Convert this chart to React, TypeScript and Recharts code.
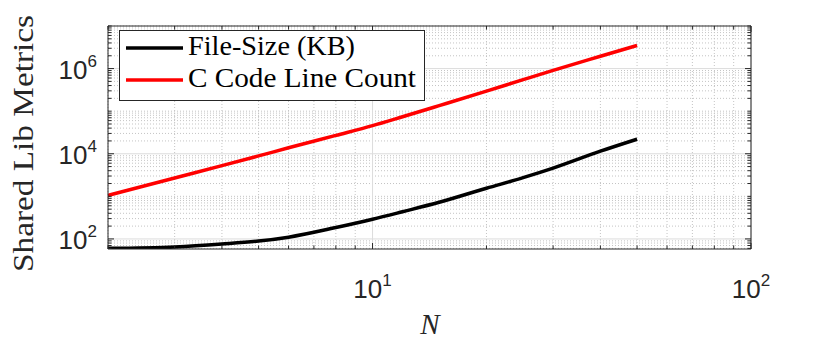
import React from 'react';
import { LineChart, Line, XAxis, YAxis, ReferenceLine } from 'recharts';

const nValues = [2, 3, 4, 5, 6, 8, 10, 12, 15, 20, 25, 30, 40, 50];
const fileSizeKB = [60, 65, 76, 89, 110, 185, 290, 435, 725, 1550, 2750, 4600, 11500, 22000];
const cLineCount = [1050, 2700, 5250, 8900, 13800, 27000, 45700, 74000, 135000, 295000, 550000, 910000, 1950000, 3500000];

const seriesNames = ['File-Size (KB)', 'C Code Line Count'];
const seriesColors = ['#000000', '#ff0000'];

const xDomain = [2, 100];
const yDomain = [58, 1e7];
const xMajor = [10, 100];
const yMajor = [1e2, 1e4, 1e6];
const mult = [1, 2, 3, 4, 5, 6, 7, 8, 9];
const xTicks = [1, 10].flatMap((d) => mult.map((m) => m * d)).concat([100]).filter((v) => v >= 2);
const yTicks = [10, 1e2, 1e3, 1e4, 1e5, 1e6].flatMap((d) => mult.map((m) => m * d)).concat([1e7]).filter((v) => v >= 60);

const data = nValues.map((n, i) => ({ n, fileSize: fileSizeKB[i], lines: cLineCount[i] }));

const AX = '#262626';
const TICK_FONT = '"Liberation Sans", Arial, Helvetica, sans-serif';
const SERIF = '"Liberation Serif", "Times New Roman", serif';

const exp = (v: number) => Math.round(Math.log10(v));

const BottomTick = ({ x, y, payload }: any) => {
  const major = xMajor.includes(payload.value);
  return (
    <g>
      <line x1={x} x2={x} y1={y} y2={y - (major ? 6 : 3.5)} stroke={AX} />
      {major && (
        <text x={x} y={y + 49} textAnchor="middle" fontFamily={TICK_FONT} fontSize={26} fill={AX}>
          10<tspan dy={-12} fontSize={17}>{exp(payload.value)}</tspan>
        </text>
      )}
    </g>
  );
};

const TopTick = ({ x, y, payload }: any) => {
  const major = xMajor.includes(payload.value);
  return <line x1={x} x2={x} y1={y} y2={y + (major ? 6 : 3.5)} stroke={AX} />;
};

const LeftTick = ({ x, y, payload }: any) => {
  const major = yMajor.includes(payload.value);
  return (
    <g>
      <line x1={x} x2={x + (major ? 6 : 3.5)} y1={y} y2={y} stroke={AX} />
      {major && (
        <text x={x - 11} y={y + 10} textAnchor="end" fontFamily={TICK_FONT} fontSize={26} fill={AX}>
          10<tspan dy={-12} fontSize={17}>{exp(payload.value)}</tspan>
        </text>
      )}
    </g>
  );
};

const RightTick = ({ x, y, payload }: any) => {
  const major = yMajor.includes(payload.value);
  return <line x1={x} x2={x - (major ? 6 : 3.5)} y1={y} y2={y} stroke={AX} />;
};

export default function App() {
  return (
    <div style={{ position: 'absolute', left: 0, top: 0, width: 830, height: 346, background: '#fff' }}>
      <LineChart width={830} height={346} data={data} margin={{ top: 25, right: 78, bottom: 0, left: 0 }}>
        {xTicks.filter((v) => !xMajor.includes(v)).map((v) => (
          <ReferenceLine key={'xm' + v} x={v} stroke="#c4c4c4" strokeDasharray="1 2" />
        ))}
        {yTicks.filter((v) => !yMajor.includes(v)).map((v) => (
          <ReferenceLine key={'ym' + v} y={v} stroke="#c4c4c4" strokeDasharray="1 2" />
        ))}
        {xMajor.map((v) => (
          <ReferenceLine key={'xM' + v} x={v} stroke="#dcdcdc" />
        ))}
        {yMajor.map((v) => (
          <ReferenceLine key={'yM' + v} y={v} stroke="#dcdcdc" />
        ))}
        <XAxis
          dataKey="n"
          type="number"
          scale="log"
          domain={xDomain}
          allowDataOverflow
          ticks={xTicks}
          interval={0}
          height={97}
          tickSize={0}
          tickMargin={0}
          tickLine={false}
          axisLine={{ stroke: AX }}
          tick={(p: any) => <BottomTick {...p} />}
        />
        <XAxis
          xAxisId="top"
          orientation="top"
          dataKey="n"
          type="number"
          scale="log"
          domain={xDomain}
          allowDataOverflow
          ticks={xTicks}
          interval={0}
          height={1}
          tickSize={0}
          tickMargin={0}
          tickLine={false}
          axisLine={{ stroke: AX }}
          tick={(p: any) => <TopTick {...p} />}
        />
        <YAxis
          type="number"
          scale="log"
          domain={yDomain}
          allowDataOverflow
          ticks={yTicks}
          interval={0}
          width={108}
          tickSize={0}
          tickMargin={0}
          tickLine={false}
          axisLine={{ stroke: AX }}
          tick={(p: any) => <LeftTick {...p} />}
        />
        <YAxis
          yAxisId="right"
          orientation="right"
          type="number"
          scale="log"
          domain={yDomain}
          allowDataOverflow
          ticks={yTicks}
          interval={0}
          width={1}
          tickSize={0}
          tickMargin={0}
          tickLine={false}
          axisLine={{ stroke: AX }}
          tick={(p: any) => <RightTick {...p} />}
        />
        <Line type="monotone" dataKey="fileSize" name={seriesNames[0]} stroke={seriesColors[0]} strokeWidth={3.5} dot={false} isAnimationActive={false} />
        <Line type="monotone" dataKey="lines" name={seriesNames[1]} stroke={seriesColors[1]} strokeWidth={3.5} dot={false} isAnimationActive={false} />
      </LineChart>

      {/* axis titles */}
      <svg width={830} height={346} style={{ position: 'absolute', left: 0, top: 0, pointerEvents: 'none' }}>
        <text
          transform="translate(33,143.5) rotate(-90)"
          textAnchor="middle"
          fontFamily={SERIF}
          fontSize={29}
          fill={AX}
          textLength={257}
          lengthAdjust="spacingAndGlyphs"
        >
          Shared Lib Metrics
        </text>
        <text x={430} y={334} textAnchor="middle" fontFamily={SERIF} fontStyle="italic" fontSize={29} fill={AX}>
          N
        </text>
      </svg>

      {/* legend box */}
      <svg width={306} height={71} style={{ position: 'absolute', left: 119, top: 30 }}>
        <rect x={0.5} y={0.5} width={305} height={70} fill="#fff" stroke={AX} />
        {seriesNames.map((name, i) => (
          <g key={name}>
            <line x1={7} x2={64} y1={18 + i * 32} y2={18 + i * 32} stroke={seriesColors[i]} strokeWidth={3.5} />
            <text
              x={69}
              y={25 + i * 32}
              fontFamily={SERIF}
              fontSize={27}
              fill="#000"
              textLength={i === 0 ? 167 : 228}
              lengthAdjust="spacingAndGlyphs"
            >
              {name}
            </text>
          </g>
        ))}
      </svg>
    </div>
  );
}
